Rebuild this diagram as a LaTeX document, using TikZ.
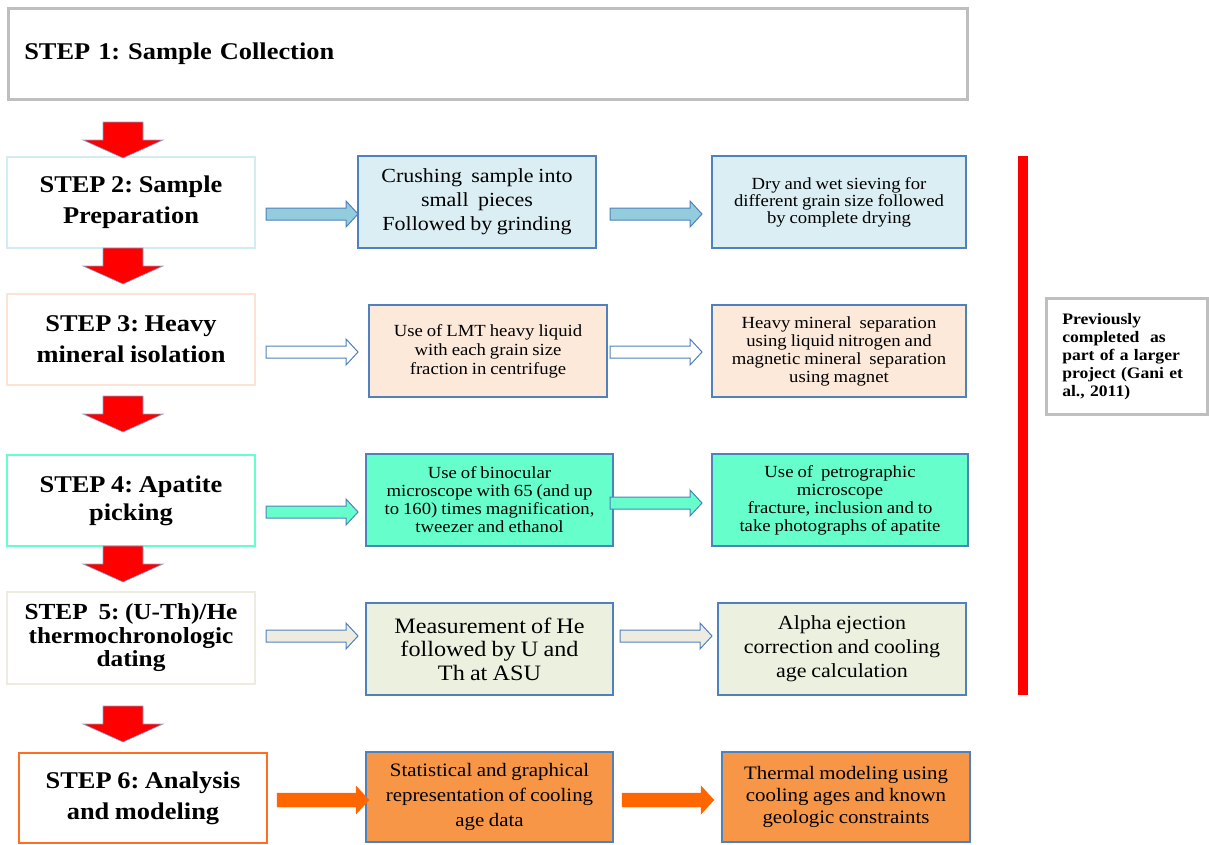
\documentclass[tikz,border=0pt]{standalone}
\usepackage{fontspec}
\setmainfont{Liberation Serif}[FakeStretch=1.1, WordSpace=0.85]
\usepackage{tikz}
\frenchspacing

\definecolor{framegray}{HTML}{BFBFBF}
\definecolor{taskblue}{HTML}{4F81BD}
\definecolor{prepline}{HTML}{D3ECF3}
\definecolor{prepfill}{HTML}{DAEEF3}
\definecolor{preparrow}{HTML}{93CDDD}
\definecolor{isoline}{HTML}{FBE4D5}
\definecolor{isofill}{HTML}{FDE9D9}
\definecolor{pickfill}{HTML}{66FFCC}
\definecolor{dateline}{HTML}{EEECE1}
\definecolor{datefill}{HTML}{EBF1DE}
\definecolor{modelline}{HTML}{FF6E1F}
\definecolor{modelfill}{HTML}{F79646}
\definecolor{modelarrow}{HTML}{FF6600}

\tikzset{
  stepbox/.style={rectangle, draw, line width=2.5pt, minimum width=248pt, minimum height=91pt, align=center, font=\bfseries\fontsize{24}{31}\selectfont},
  taskbox/.style={rectangle, draw=taskblue, line width=2pt, minimum height=92pt, align=center},
  redarr/.style={fill=red, draw=taskblue!70, line width=0.6pt},
  sidearr/.style={draw=taskblue, line width=1pt},
  pics/downarr/.style={code={\filldraw (-20,0) -- (20,0) -- (20,18) -- (40,18) -- (0,36) -- (-40,18) -- (-20,18) -- cycle;}},
  pics/rightarr/.style={code={\filldraw (0,-6) -- (80,-6) -- (80,-13) -- (92,0) -- (80,13) -- (80,6) -- (0,6) -- cycle;}},
  pics/widearr/.style={code={\filldraw (0,-7) -- (79,-7) -- (79,-14) -- (92,0) -- (79,14) -- (79,7) -- (0,7) -- cycle;}},
}

\begin{document}
\begin{tikzpicture}[x=1pt,y=-1pt]
\useasboundingbox (0,0) rectangle (1209,844);

\node[stepbox, draw=framegray, anchor=north west, inner xsep=16pt, text width=927pt, align=left] (s1) at (7,7) {STEP 1: Sample Collection};
\node[stepbox, draw=prepline] (s2) at (131,202.5) {STEP 2: Sample\\Preparation};
\node[stepbox, draw=isoline] (s3) at (131,339.5) {STEP 3: Heavy\\mineral isolation};
\node[stepbox, draw=pickfill, font=\bfseries\fontsize{24}{28}\selectfont] (s4) at (131,500.5) {STEP 4: Apatite\\picking};
\node[stepbox, draw=dateline, minimum height=92pt, font=\bfseries\fontsize{23}{23.5}\selectfont] (s5) at (131,638) {STEP\ \ 5: (U-Th)/He\\thermochronologic\\dating};
\node[stepbox, draw=modelline, minimum height=90pt] (s6) at (143,798) {STEP 6: Analysis\\and modeling};

\pic[redarr] at (123,122) {downarr};
\pic[redarr] at (123,248) {downarr};
\pic[redarr] at (123,396) {downarr};
\pic[redarr] at (123,546) {downarr};
\pic[redarr] at (123,706) {downarr};

\node[taskbox, fill=prepfill, minimum width=238pt, font=\fontsize{20}{24}\selectfont] (t2a) at (477,202) {Crushing\ \ sample into\\small\ \ pieces\\Followed\ by grinding};
\node[taskbox, fill=prepfill, minimum width=254pt, font=\fontsize{17}{17}\selectfont] (t2b) at (839,202) {Dry and wet sieving for\\different grain size followed\\by complete drying};
\node[taskbox, fill=isofill, minimum width=238pt, font=\fontsize{17}{19}\selectfont] (t3a) at (488,351) {Use of LMT\ heavy liquid\\with each grain size\\fraction in centrifuge};
\node[taskbox, fill=isofill, minimum width=254pt, font=\fontsize{17}{18}\selectfont] (t3b) at (839,351) {Heavy mineral\ \ separation\\using liquid nitrogen and\\magnetic mineral\ \ separation\\using magnet};
\node[taskbox, fill=pickfill, minimum width=247pt, font=\fontsize{17}{18}\selectfont] (t4a) at (489.5,500) {Use of binocular\\microscope with 65 (and up\\to 160) times magnification,\\tweezer and ethanol};
\node[taskbox, fill=pickfill, minimum width=256pt, font=\fontsize{17}{18}\selectfont] (t4b) at (840,500) {Use of\ \ petrographic\\microscope\\fracture, inclusion and to\\take photographs of apatite};
\node[taskbox, fill=datefill, minimum width=247pt, font=\fontsize{22}{23.5}\selectfont] (t5a) at (489.5,649) {Measurement of He\\followed by U and\\Th\ at ASU};
\node[taskbox, fill=datefill, minimum width=248pt, font=\fontsize{20}{24}\selectfont] (t5b) at (842,649) {Alpha\ ejection\\correction\ and cooling\\age calculation};
\node[taskbox, fill=modelfill, minimum width=247pt, minimum height=90pt, font=\fontsize{19}{25}\selectfont] (t6a) at (489.5,797) {Statistical\ and graphical\\representation of cooling\\age data};
\node[taskbox, fill=modelfill, minimum width=248pt, minimum height=90pt, font=\fontsize{19}{22}\selectfont] (t6b) at (846,797) {Thermal modeling\ using\\cooling\ ages and known\\geologic\ constraints};

\pic[sidearr, fill=preparrow] at (266,214) {rightarr};
\pic[sidearr, fill=preparrow] at (610,214) {rightarr};
\pic[sidearr, fill=white] at (266,352) {rightarr};
\pic[sidearr, fill=white] at (610,352) {rightarr};
\pic[sidearr, fill=pickfill] at (266,512) {rightarr};
\pic[sidearr, fill=pickfill] at (610,503) {rightarr};
\pic[sidearr, fill=dateline] at (266,636) {rightarr};
\pic[sidearr, fill=dateline] at (620,636) {rightarr};
\pic[fill=modelarrow, draw=modelarrow] at (277,800) {widearr};
\pic[fill=modelarrow, draw=modelarrow] at (622,800) {widearr};

\draw[red, line width=10pt] (1023,156) -- (1023,695);

\node[rectangle, draw=framegray, line width=2.5pt, anchor=north west, minimum height=116pt, inner xsep=16pt, text width=129pt, align=left, font=\bfseries\fontsize{16}{18}\selectfont] (note) at (1045,297) {Previously\\completed\ \ as\\part\ of a larger\\project (Gani\ et\\al., 2011)};
\end{tikzpicture}
\end{document}
